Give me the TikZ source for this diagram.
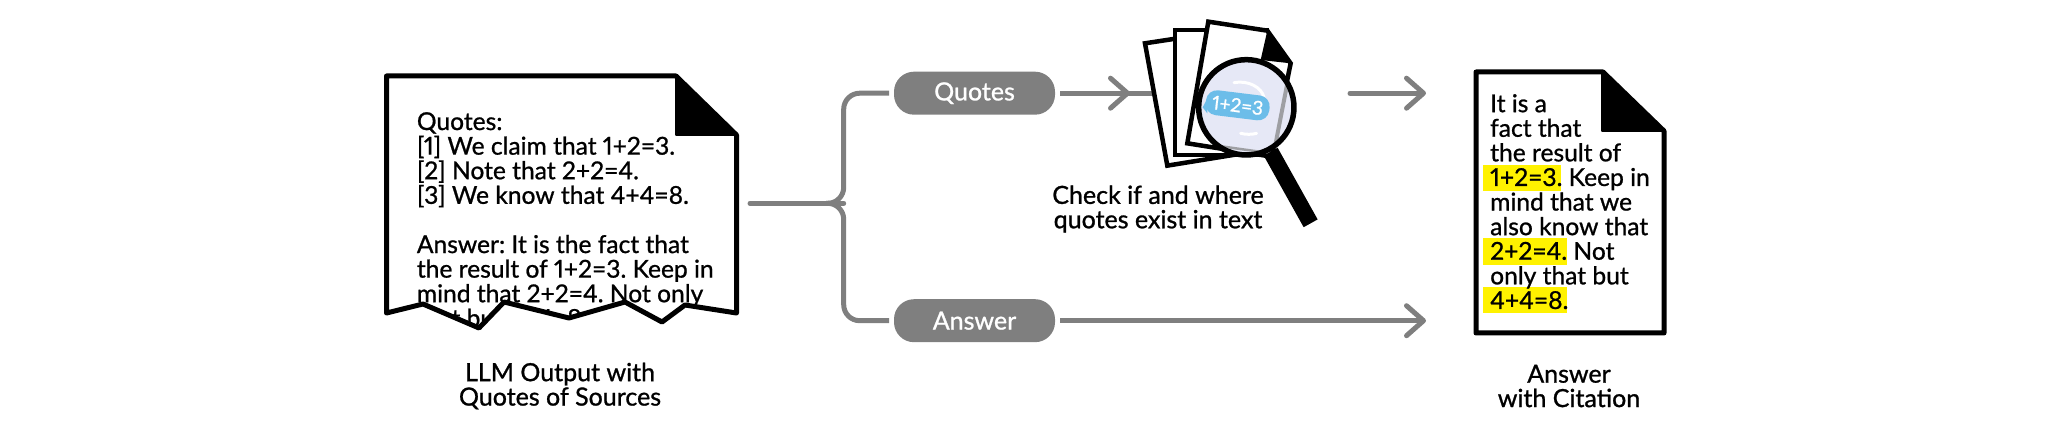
\documentclass[tikz,border=0pt]{standalone}
\usepackage{fontspec}
\setmainfont{Lato}
\newfontface\mf{Lato}[FakeBold=1.0,Numbers=Proportional]
\newfontface\mfl{Lato}[FakeBold=0.9,Numbers=Proportional]
\AtBeginDocument{\frenchspacing}
\usetikzlibrary{arrows.meta,calc}
\definecolor{ggray}{HTML}{7F7F7F}
\definecolor{hyel}{HTML}{FFF200}
\definecolor{lens}{HTML}{E6E8F6}
\definecolor{bub}{HTML}{6CBDE9}
\tikzset{
  docline/.style={draw=black,line width=5pt,line join=round,fill=white},
  conn/.style={draw=ggray,line width=5pt},
  head/.style={-{Straight Barb[length=17pt,width=30pt,line width=5pt,round]}},
  pill/.style={fill=ggray,text=white,rounded corners=20pt,minimum width=161pt,minimum height=43pt,inner sep=0pt,outer sep=5pt,font=\mf\fontsize{25}{25}\selectfont},
  caption/.style={align=center,inner sep=0pt,font=\mf\fontsize{25}{24.4}\selectfont},
  doctext/.style={align=left,inner sep=0pt,anchor=north west,font=\mfl\fontsize{24.6}{24.6}\selectfont},
  hilite/.style={fill=hyel,draw=none},
  paper/.style={draw=black,line width=4.5pt,fill=white,line join=miter}
}
\begin{document}
\begin{tikzpicture}[x=1pt,y=-1pt]
\useasboundingbox (0,0) rectangle (2048,427);
% left document
\path[docline] (386.5,76) -- (676,76) -- (736.5,135) -- (736.5,313) -- (685,305) -- (662,322) -- (625,302) -- (569,318) -- (504,302) -- (479,328) -- (423,304) -- (386.5,313) -- cycle;
\begin{scope}
\clip (386.5,76) -- (676,76) -- (736.5,135) -- (736.5,313) -- (685,305) -- (662,322) -- (625,302) -- (569,318) -- (504,302) -- (479,328) -- (423,304) -- (386.5,313) -- cycle;
\node[doctext] (doca) at (416.7,112) {Quotes:\\{}[1] We claim that 1+2=3.\\{}[2] Note that 2+2=4.\\{}[3] We know that 4+4=8.\\[24.6pt]Answer: It is the fact that\\the result of 1+2=3. Keep in\\mind that 2+2=4. Not only\\that but 4+4=8.};
\end{scope}
\fill[black,line join=round,draw=black,line width=2pt] (676,77) -- (736,135) -- (676,135) -- cycle;
\node[caption] (capa) at (560,386) {LLM Output with\\Quotes of Sources};
% connectors
\coordinate (src) at (750,203.3);
\coordinate (bx) at (843.7,203.3);
\node[pill] (q) at (974.5,93.2) {Quotes};
\node[pill] (a) at (974.5,320.7) {Answer};
\coordinate (qt) at (1130,93.2);
\coordinate (qs) at (1152,93.2);
\coordinate (ot) at (1350,93.2);
\coordinate (ote) at (1426,93.2);
\coordinate (doce) at (1426,320.7);
\draw[conn,line cap=round] (src) -- (bx |- src);
\draw[conn,rounded corners=16pt] (826,203.3) -- (bx) -- (bx |- q.west) -- (q.west);
\draw[conn,rounded corners=16pt] (826,203.3) -- (bx) -- (bx |- a.west) -- (a.west);
\draw[conn] (q.east) -- (qs);
\draw[conn,head] (q.east) -- (qt);
\draw[conn,head,line cap=round] (ot) -- (ote);
\draw[conn,head] (a.east) -- (doce);
% papers and lens
\begin{scope}[shift={(1030,0)},x=0.3333pt,y=-0.3333pt]
\draw[paper] (345,130) -- (412,497) -- (640,460) -- (575,95) -- cycle;
\draw[paper] (435,90) -- (435,465) -- (710,465) -- (710,90) -- cycle;
\draw[paper] (535,65) -- (472,430) -- (725,470) -- (782,190) -- (712,92) -- cycle;
\fill[black] (712,92) -- (782,190) -- (692,180) -- cycle;
\draw[black,line width=16pt,line cap=butt] (722,455) -- (842,670);
\fill[lens] (649,322) circle (141);
\begin{scope}
\clip (649,322) circle (141);
\draw[ggray!70!lens,line width=4pt] (773,245) -- (737,430);
\draw[ggray!70!lens,line width=2.5pt] (510,430) -- (737,462);
\end{scope}
\draw[white,line width=3pt,line cap=round] (612,248) .. controls (655,240) and (695,262) .. (702,292);
\draw[white,line width=3pt,line cap=round] (632,400) .. controls (648,404) and (665,404) .. (680,400);
\fill[bub] (518,322) -- (532,296) -- (532,340) -- cycle;
\node[fill=bub,text=white,rounded corners=11pt,rotate=-7,minimum width=64pt,minimum height=25pt,inner sep=0pt,font=\mf\fontsize{19}{19}\selectfont] (bubble) at (623,316) {1+2=3};
\draw[black,line width=5.5pt] (649,322) circle (143);
\end{scope}
\node[caption] (capq) at (1158,209) {Check if and where\\quotes exist in text};
% right document
\fill[hilite] (1483,165) rectangle (1561,191);
\fill[hilite] (1483,238) rectangle (1567,265);
\fill[hilite] (1483,287) rectangle (1567,313);
\path[docline,fill=none] (1476,72) -- (1603,72) -- (1664,131) -- (1664,333) -- (1476,333) -- cycle;
\fill[black,line join=round,draw=black,line width=2pt] (1602,73) -- (1663,131) -- (1602,131) -- cycle;
\node[doctext] (docb) at (1490,94) {It is a\\fact that\\the result of\\1+2=3. Keep in\\mind that we\\also know that\\2+2=4. Not\\only that but\\4+4=8.};
\node[caption] (capb) at (1569,386) {Answer\\with Citation};
\end{tikzpicture}
\end{document}
